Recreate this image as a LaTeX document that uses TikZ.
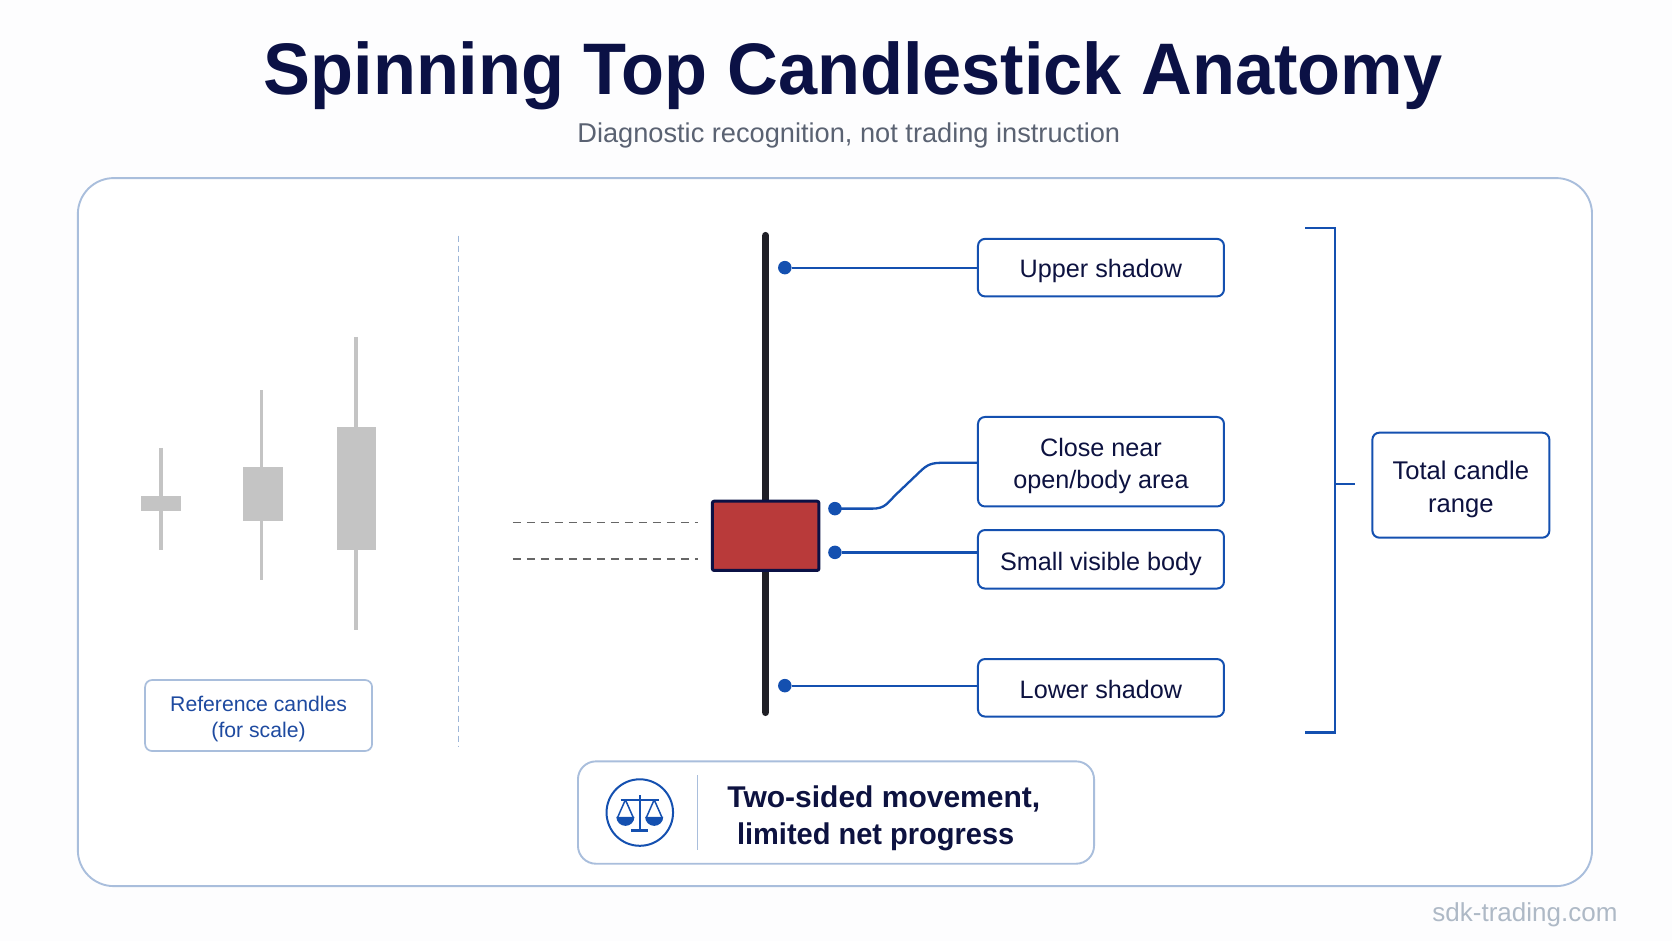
\documentclass[tikz,border=0pt]{standalone}
\usepackage{fontspec}
\setmainfont{Liberation Sans}
\newfontfamily\titlefont[FakeStretch=0.9636]{Liberation Sans}
\newfontfamily\sumfont[FakeStretch=0.967]{Liberation Sans}
\newcommand{\lifted}[1]{\rule{0pt}{#1pt}}
\definecolor{ink}{HTML}{0D1240}
\definecolor{navy}{HTML}{0B1145}
\definecolor{panelline}{HTML}{A9BEDC}
\definecolor{sepline}{HTML}{9DB6D8}
\definecolor{accent}{HTML}{1450B0}
\definecolor{refblue}{HTML}{1E4AA0}
\definecolor{candlegray}{HTML}{C4C4C4}
\definecolor{wickdark}{HTML}{1F1F26}
\definecolor{bodyred}{HTML}{B93A3A}
\definecolor{subgray}{HTML}{5A6272}
\definecolor{markgray}{HTML}{AEB9C6}
\definecolor{pagebg}{HTML}{FDFDFE}
\tikzset{
  x=1.06633pt,y=-1.06633pt,
  callout/.style={draw=accent,line width=2pt,rounded corners=7pt,fill=white,text=ink,align=center,inner sep=0pt,font=\fontsize{25.2}{32}\selectfont},
  feeder/.style={draw=accent,line width=2.3pt},
  dotmark/.style={circle,fill=accent,inner sep=0pt,minimum size=13.5pt},
  grayfill/.style={fill=candlegray,draw=none},
  graywick/.style={draw=candlegray,line width=3.4pt},
  guide/.style={draw=black!60,line width=1.6pt,dash pattern=on 8pt off 6pt},
  iconline/.style={draw=accent,line width=1.5pt,line join=round}
}
\begin{document}
\begin{tikzpicture}
\useasboundingbox (0,0) rectangle (1568,882.5);
\fill[pagebg] (0,0) rectangle (1568,882.5);
% title
\node[anchor=base,font=\titlefont\fontsize{73}{84}\selectfont\bfseries,text=navy,inner sep=0pt] (title) at (800,89) {Spinning Top Candlestick Anatomy};
\node[anchor=base,font=\fontsize{27.2}{34}\selectfont,text=subgray,inner sep=0pt] (subtitle) at (796,134) {Diagnostic recognition, not trading instruction};
% panel
\draw[draw=panelline,line width=1.9pt,fill=white,rounded corners=36pt] (73,167) rectangle (1493,831);
\draw[draw=sepline,line width=1.6pt,dash pattern=on 6pt off 4pt] (430,221) -- (430,700);
% reference candles
\draw[graywick] (151,420) -- (151,516);
\fill[grayfill] (132,465) rectangle (170,479);
\draw[graywick] (245,366) -- (245,544);
\fill[grayfill] (228,438) rectangle (265,489);
\draw[graywick] (334,316) -- (334,591);
\fill[grayfill] (316,400) rectangle (353,516);
\node[draw=panelline,line width=1.7pt,rounded corners=7pt,fill=white,text=refblue,align=center,inner sep=0pt,minimum width=227pt,minimum height=71pt,font=\fontsize{21.2}{26.5}\selectfont] (refbox) at (242.5,671) {\lifted{21.9}Reference candles\\(for scale)};
% main candle
\draw[draw=wickdark,line width=7.5pt,line cap=round] (718,221) -- (718,668);
\draw[draw=navy,line width=3pt,fill=bodyred,rounded corners=2pt] (668,470) rectangle (768,535);
\coordinate (guideA) at (481,490); \coordinate (guideAend) at (655,490);
\coordinate (guideB) at (481,524); \coordinate (guideBend) at (655,524);
\draw[guide] (guideA) -- (guideAend);
\draw[guide] (guideB) -- (guideBend);
% callouts
\node[callout,minimum width=246pt,minimum height=57.5pt] (upper) at (1032.5,251) {\lifted{24.6}Upper shadow};
\node[callout,minimum width=246pt,minimum height=89.5pt] (close) at (1032.5,433) {\lifted{26.8}Close near\\open/body area};
\node[callout,minimum width=246pt,minimum height=58.5pt] (small) at (1032.5,524.5) {\lifted{26.8}Small visible body};
\node[callout,minimum width=246pt,minimum height=57.5pt] (lower) at (1032.5,645) {\lifted{22.4}Lower shadow};
\node[dotmark] (d1) at (736,251) {};
\node[dotmark] (d2) at (783,477) {};
\node[dotmark] (d3) at (783,518) {};
\node[dotmark] (d4) at (736,643) {};
\draw[feeder] (d1) -- (upper.west |- d1);
\draw[feeder] (d2.center) -- (818,477) .. controls (830,477) and (832,472) .. (840,464) -- (862,443) .. controls (870,435) and (874,434) .. (885,434) -- (close.west |- 885,434);
\draw[feeder] (d3) -- (small.west |- d3);
\draw[feeder] (d4) -- (lower.west |- d4);
% bracket
\node[callout,minimum width=177pt,minimum height=105pt,font=\fontsize{25.6}{33}\selectfont] (total) at (1370,455) {\lifted{27.1}Total candle\\range};
\coordinate (brTop) at (1224,214);
\coordinate (brBot) at (1224,687);
\coordinate (brMid) at (1252,454);
\coordinate (brTick) at (1271,454);
\draw[feeder] (brTop) -- (1252,214) -- (1252,687) -- (brBot);
\draw[feeder] (brMid) -- (brTick);
% summary box
\draw[draw=panelline,line width=1.9pt,fill=white,rounded corners=18pt] (542,714) rectangle (1026,810);
\draw[draw=panelline,line width=1.7pt] (654,727) -- (654,797);
\node[draw=accent,line width=2pt,circle,minimum size=66.5pt,inner sep=0pt] (icon) at (600,762) {};
\begin{scope}[shift={(600,762)}]
  \draw[iconline,line width=2.4pt] (0,-16) -- (0,16);
  \draw[iconline,line width=3pt] (-8,17) -- (8,17);
  \draw[iconline,line width=2pt] (-18,-12) -- (18,-12);
  \draw[iconline] (-13.5,-12) -- (-21,5) (-13.5,-12) -- (-6,5);
  \draw[iconline] (13.5,-12) -- (21,5) (13.5,-12) -- (6,5);
  \fill[accent] (-22,4) -- (-5,4) arc[start angle=0,end angle=180,radius=8.5] -- cycle;
  \fill[accent] (5,4) -- (22,4) arc[start angle=0,end angle=180,radius=8.5] -- cycle;
\end{scope}
\node[anchor=west,inner sep=0pt,text=ink,font=\fontsize{30}{36}\selectfont\bfseries] (sumA) at (682,749) {Two-sided movement,};
\node[anchor=west,inner sep=0pt,text=ink,font=\sumfont\fontsize{30}{36}\selectfont\bfseries] (sumB) at (691,785) {limited net progress};
% watermark
\node[anchor=east,inner sep=0pt,text=markgray,font=\fontsize{26}{30}\selectfont] (mark) at (1517,858) {sdk-trading.com};
\end{tikzpicture}
\end{document}
